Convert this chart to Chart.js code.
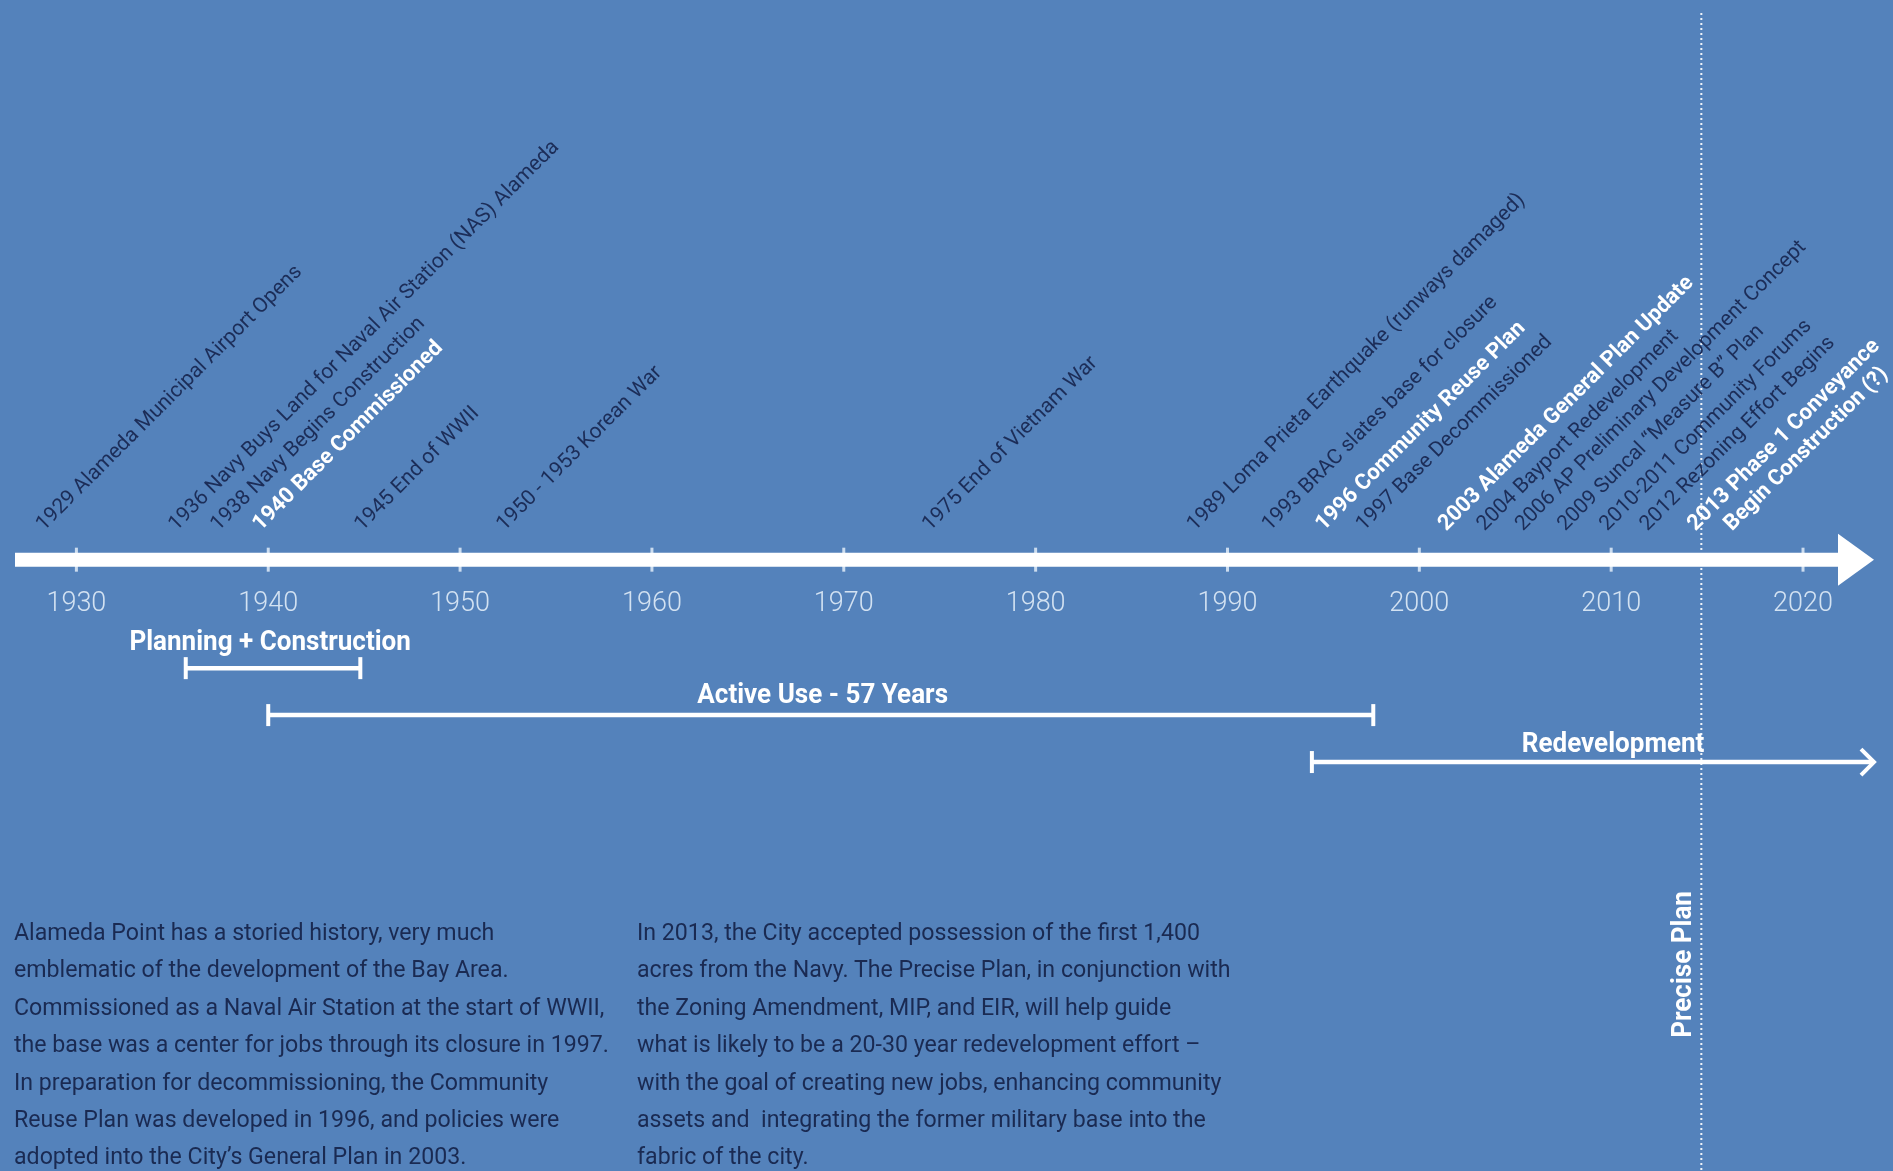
<!DOCTYPE html>
<html>
<head>
<meta charset="utf-8">
<script src="https://cdn.jsdelivr.net/npm/chart.js@4.4.1/dist/chart.umd.min.js"></script>
<style>
  html, body { margin: 0; padding: 0; background: #5482bb; }
  .Frame { position: relative; width: 1893px; height: 1171px; overflow: hidden; }
  .Plot { position: absolute; left: 0; top: 0; width: 1893px; height: 1171px; }
  .Note {
    position: absolute; top: 914px;
    font: 24px Roboto, sans-serif; line-height: 37.4px; color: #1a2a52;
    white-space: nowrap; transform: scaleX(0.965); transform-origin: 0 0;
  }
</style>
</head>
<body>
<div class="Frame">
  <div class="Plot"><canvas class="Chart"></canvas></div>
  <div class="Note" style="left:14px">
    Alameda Point has a storied history, very much<br>
    emblematic of the development of the Bay Area.<br>
    Commissioned as a Naval Air Station at the start of WWII,<br>
    the base was a center for jobs through its closure in 1997.<br>
    In preparation for decommissioning, the Community<br>
    Reuse Plan was developed in 1996, and policies were<br>
    adopted into the City’s General Plan in 2003.
  </div>
  <div class="Note" style="left:637px">
    In 2013, the City accepted possession of the first 1,400<br>
    acres from the Navy. The Precise Plan, in conjunction with<br>
    the Zoning Amendment, MIP, and EIR, will help guide<br>
    what is likely to be a 20-30 year redevelopment effort –<br>
    with the goal of creating new jobs, enhancing community<br>
    assets and &nbsp;integrating the former military base into the<br>
    fabric of the city.
  </div>
</div>
<script>
// timeline axis (years)
const tickYears = [1930, 1940, 1950, 1960, 1970, 1980, 1990, 2000, 2010, 2020];
const axisStart = 1926.8;
const axisEnd = 2022.3;
const arrowTip = 2023.7;

// events along the axis: text, where the label starts (year), highlighted or not
const eventText = [
  "1929 Alameda Municipal Airport Opens",
  "1936 Navy Buys Land for Naval Air Station (NAS) Alameda",
  "1938 Navy Begins Construction",
  "1940 Base Commissioned",
  "1945 End of WWII",
  "1950 - 1953 Korean War",
  "1975 End of Vietnam War",
  "1989 Loma Prieta Earthquake (runways damaged)",
  "1993 BRAC slates base for closure",
  "1996 Community Reuse Plan",
  "1997 Base Decommissioned",
  "2003 Alameda General Plan Update",
  "2004 Bayport Redevelopment",
  "2006 AP Preliminary Development Concept",
  "2009 Suncal “Measure B” Plan",
  "2010-2011 Community Forums",
  "2012 Rezoning Effort Begins",
  "2013 Phase 1 Conveyance",
  "Begin Construction (?)",
];
const eventPos = [
  1928.3, 1935.2, 1937.4, 1939.6, 1944.9, 1952.3, 1974.5, 1988.3, 1992.2, 1995.0,
  1997.1, 2001.4, 2003.4, 2005.4, 2007.6, 2009.8, 2011.9, 2014.4, 2016.3,
];
const eventBold = [
  false, false, false, true, false, false, false, false, false, true,
  false, true, false, false, false, false, false, true, true,
];
const eventRow = 0.6;

// periods drawn as bars under the axis
const spanNames = ["Planning + Construction", "Active Use - 57 Years", "Redevelopment"];
const spanStart = [1935.7, 1940, 1994.4];
const spanEnd = [1944.8, 1997.6, 2023.7];
const spanRow = [-2.31, -3.31, -4.31];
const spanLabelPos = [1940.1, 1968.9, 2010.1];
const spanLabelRow = [-1.77, -2.91, -3.94];

// precise plan marker
const preciseYear = 2014.7;
const preciseTop = 11.64;
const preciseBottom = -13.5;
const preciseLabelRow = -8.62;

const navy = "#1c2d58";

const spanSets = spanNames.map((name, i) => ({
  label: name,
  data: [{ x: spanStart[i], y: spanRow[i] }, { x: spanEnd[i], y: spanRow[i] }],
  borderColor: "#fff",
  borderWidth: 4.5,
  pointStyle: "line",
  pointRotation: 90,
  pointRadius: i === 2 ? [11, 0] : 11,
  pointBorderColor: "#fff",
  pointBorderWidth: 4,
}));

const timelineText = {
  id: "timelineText",
  afterDatasetsDraw(chart) {
    const { ctx } = chart;
    const x = chart.scales.x;
    const y = chart.scales.y;

    ctx.save();
    // arrow head of the main axis
    const tip = x.getPixelForValue(arrowTip);
    const y0 = y.getPixelForValue(0);
    ctx.fillStyle = "#fff";
    ctx.beginPath();
    ctx.moveTo(tip, y0);
    ctx.lineTo(tip - 36, y0 - 26);
    ctx.lineTo(tip - 36, y0 + 26);
    ctx.closePath();
    ctx.fill();

    // open arrow on the redevelopment bar
    const ry = y.getPixelForValue(spanRow[2]);
    const rx = x.getPixelForValue(spanEnd[2]);
    ctx.strokeStyle = "#fff";
    ctx.lineWidth = 4;
    ctx.beginPath();
    ctx.moveTo(rx - 13, ry - 13);
    ctx.lineTo(rx, ry);
    ctx.lineTo(rx - 13, ry + 13);
    ctx.stroke();

    // event labels
    eventText.forEach((t, i) => {
      ctx.save();
      ctx.translate(x.getPixelForValue(eventPos[i]), y.getPixelForValue(eventRow));
      ctx.rotate(-Math.PI / 4);
      ctx.font = eventBold[i] ? "bold 22px Roboto" : "21px Roboto";
      ctx.fillStyle = eventBold[i] ? "#fff" : navy;
      ctx.textAlign = "left";
      ctx.textBaseline = "alphabetic";
      ctx.fillText(t, 0, 0);
      ctx.restore();
    });

    // period labels
    spanNames.forEach((t, i) => {
      ctx.save();
      ctx.translate(x.getPixelForValue(spanLabelPos[i]), y.getPixelForValue(spanLabelRow[i]));
      ctx.scale(0.93, 1);
      ctx.font = "bold 28px Roboto";
      ctx.fillStyle = "#fff";
      ctx.textAlign = "center";
      ctx.textBaseline = "middle";
      ctx.fillText(t, 0, 0);
      ctx.restore();
    });

    // precise plan label
    ctx.save();
    ctx.translate(x.getPixelForValue(preciseYear) - 17, y.getPixelForValue(preciseLabelRow));
    ctx.rotate(-Math.PI / 2);
    ctx.scale(0.93, 1);
    ctx.font = "bold 28px Roboto";
    ctx.fillStyle = "#fff";
    ctx.textAlign = "center";
    ctx.textBaseline = "middle";
    ctx.fillText("Precise Plan", 0, 0);
    ctx.restore();

    ctx.restore();
  },
};

const canvas = document.querySelector(".Chart");

new Chart(canvas, {
  type: "line",
  data: {
    datasets: [
      {
        label: "timeline",
        data: [{ x: axisStart, y: 0 }, { x: axisEnd, y: 0 }],
        borderColor: "#fff",
        borderWidth: 14,
        borderCapStyle: "butt",
        pointRadius: 0,
      },
      {
        label: "decades",
        data: tickYears.map((v) => ({ x: v, y: 0 })),
        showLine: false,
        pointStyle: "line",
        pointRotation: 90,
        pointRadius: 12,
        pointBorderWidth: 3,
        pointBorderColor: "rgba(225,236,248,0.85)",
      },
      ...spanSets,
      {
        label: "Precise Plan",
        data: [{ x: preciseYear, y: preciseTop }, { x: preciseYear, y: preciseBottom }],
        borderColor: "rgba(255,255,255,0.9)",
        borderWidth: 2,
        borderDash: [2, 3],
        pointRadius: 0,
        clip: false,
      },
    ],
  },
  options: {
    responsive: true,
    maintainAspectRatio: false,
    animation: false,
    events: [],
    layout: { padding: { left: 12, right: 19, top: 0, bottom: 0 } },
    plugins: {
      legend: { display: false },
      tooltip: { enabled: false },
    },
    scales: {
      x: {
        type: "linear",
        min: axisStart,
        max: arrowTip,
        position: { y: 0 },
        afterBuildTicks: (s) => {
          s.ticks = tickYears.map((v) => ({ value: v }));
        },
        grid: { display: false, drawTicks: false },
        border: { display: false },
        ticks: {
          color: "#d3e2f2",
          font: { family: "Roboto", size: 27, weight: "300" },
          padding: 28,
          maxRotation: 0,
          autoSkip: false,
          callback: (v) => String(v),
        },
      },
      y: {
        type: "linear",
        display: false,
        min: -12.7,
        max: 11.6,
      },
    },
  },
  plugins: [timelineText],
});
</script>
</body>
</html>
